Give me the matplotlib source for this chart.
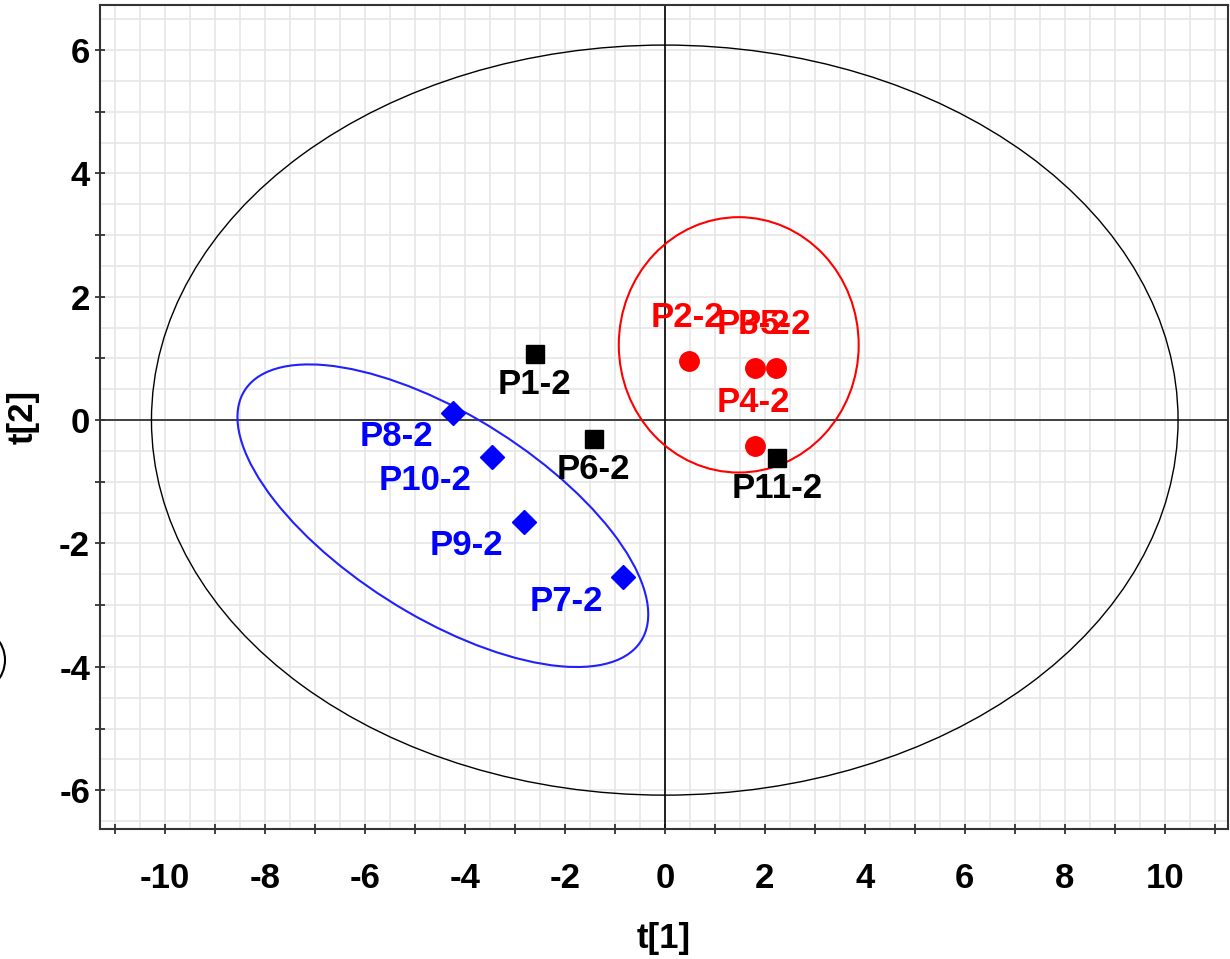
import matplotlib
matplotlib.use("Agg")
import matplotlib.pyplot as plt
from matplotlib.patches import Ellipse
from matplotlib.ticker import MultipleLocator, FuncFormatter

plt.rcParams["font.family"] = ["Liberation Sans", "DejaVu Sans"]
plt.rcParams["font.weight"] = "bold"
plt.rcParams["axes.labelweight"] = "bold"

# score values t[1], t[2] per group
black_names = ["P1-2", "P6-2", "P11-2"]
black_t1 = [-2.60, -1.42, 2.24]
black_t2 = [1.07, -0.30, -0.62]

red_names = ["P2-2", "P3-2", "P5-2", "P4-2"]
red_t1 = [0.49, 1.81, 2.23, 1.81]
red_t2 = [0.96, 0.85, 0.85, -0.42]

blue_names = ["P8-2", "P10-2", "P9-2", "P7-2"]
blue_t1 = [-4.23, -3.45, -2.82, -0.83]
blue_t2 = [0.11, -0.60, -1.65, -2.55]

# ellipses: (center t1, center t2, width, height, angle)
hotelling = (0.0, 0.0, 20.54, 12.16, 0.0)
red_ell = (1.48, 1.22, 4.80, 4.14, 0.0)
blue_ell = (-4.44, -1.55, 8.94, 3.42, -25.2)

FS = 25

fig = plt.figure(figsize=(12.3, 9.59), dpi=100)
ax = fig.add_axes([0.0817, 0.1355, 0.9163, 0.8593])

ax.set_xlim(-11.29, 11.26)
ax.set_ylim(-6.63, 6.73)

# grid every 0.5, ticks every 1, labels every 2
ax.xaxis.set_major_locator(MultipleLocator(1))
ax.yaxis.set_major_locator(MultipleLocator(1))
ax.xaxis.set_minor_locator(MultipleLocator(0.5))
ax.yaxis.set_minor_locator(MultipleLocator(0.5))
even = FuncFormatter(lambda v, p: "%d" % round(v) if round(v) % 2 == 0 else "")
ax.xaxis.set_major_formatter(even)
ax.yaxis.set_major_formatter(even)
ax.grid(which="both", color="#e6e6e6", lw=1.2, zorder=0)
ax.set_axisbelow(True)
ax.tick_params(which="major", direction="inout", length=7, width=1.2, color="#222222",
               labelsize=FS)
ax.tick_params(axis="x", which="major", pad=20)
ax.tick_params(axis="y", which="major", pad=4)
ax.tick_params(which="minor", length=0)
for s in ax.spines.values():
    s.set_color("#333333")
    s.set_linewidth(1.5)

ax.axhline(0, color="#333333", lw=1.3, zorder=1)
ax.axvline(0, color="#111111", lw=1.3, zorder=1)

for (cx, cy, w, h, a), col, lw in [(hotelling, "black", 1.0),
                                   (red_ell, "red", 1.5),
                                   (blue_ell, "#2020ff", 1.5)]:
    ax.add_patch(Ellipse((cx, cy), w, h, angle=a, fill=False, edgecolor=col, lw=lw, zorder=2))

ax.plot(black_t1, black_t2, "s", color="black", ms=13, ls="none", zorder=3)
ax.plot(red_t1, red_t2, "o", color="red", ms=14, ls="none", zorder=3)
ax.plot(blue_t1, blue_t2, "D", color="blue", ms=12, ls="none", zorder=3)

for n, x, y in zip(black_names, black_t1, black_t2):
    ax.annotate(n, (x, y), xytext=(0, -22), textcoords="offset points",
                ha="center", va="center", fontsize=FS, color="black", zorder=4)
for n, x, y in zip(red_names, red_t1, red_t2):
    ax.annotate(n, (x, y), xytext=(-1, 31), textcoords="offset points",
                ha="center", va="center", fontsize=FS, color="red", zorder=4)
for n, x, y in zip(blue_names, blue_t1, blue_t2):
    ax.annotate(n, (x, y), xytext=(-14.8, -17), textcoords="offset points",
                ha="right", va="center", fontsize=FS, color="blue", zorder=4)

ax.set_xlabel("t[1]", fontsize=FS, labelpad=20)
ax.set_ylabel("t[2]", fontsize=FS, labelpad=14)

# cut-off circle at the left edge of the picture
fig.patches.append(Ellipse((-28 / 1230, 1 - 660 / 959), 66 / 1230, 66 / 959,
                           transform=fig.transFigure, fill=False, edgecolor="black", lw=1.5))

fig.savefig("out.png", dpi=100)
